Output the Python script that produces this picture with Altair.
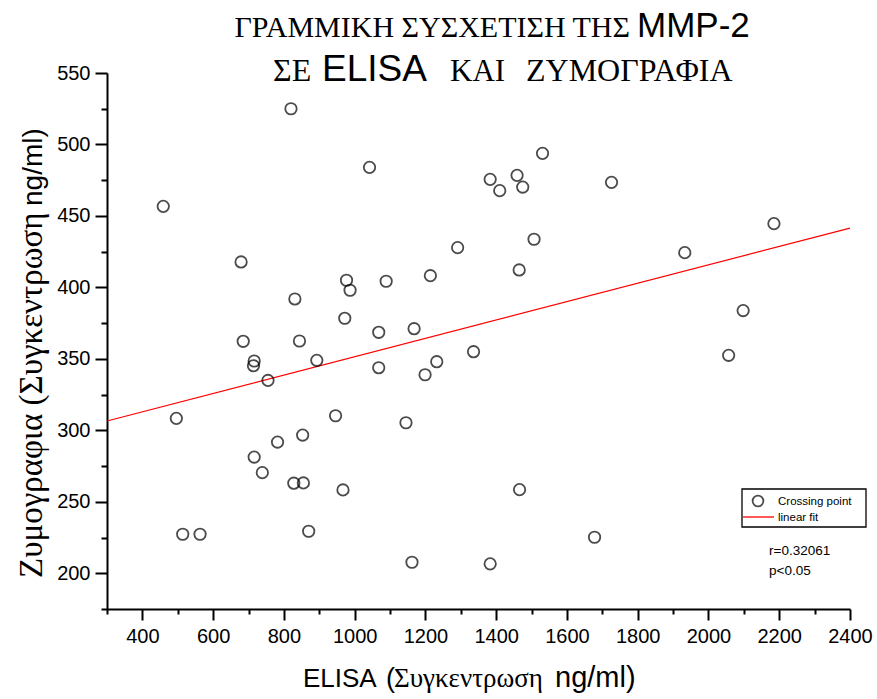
import altair as alt
import pandas as pd

# ---- data ----
elisa = [820, 1042, 1383, 1410, 459, 679, 1291, 977, 987, 1089, 1214, 831, 972, 1068,
         1168, 685, 844, 1336, 716, 714, 893, 1068, 1232, 1199, 755, 496, 946, 1145,
         853, 782, 716, 739, 828, 855, 967, 514, 563, 870, 1162, 1383, 1531, 1459,
         1475, 1726, 1507, 1465, 1933, 2185, 2098, 2057, 1466, 1678]
zymo = [525, 484, 475.6, 467.7, 456.7, 417.8, 427.8, 405, 398, 404.3, 408.2, 391.9, 378.4, 368.6,
        371.1, 362.3, 362.5, 355, 348.5, 345.2, 349, 343.8, 348, 338.9, 334.9, 308.4, 310.2, 305.3,
        296.7, 291.8, 281.3, 270.4, 263, 263.2, 258.3, 227.3, 227.3, 229.4, 207.7, 206.6, 493.8, 478.4,
        470.2, 473.5, 433.7, 412.2, 424.3, 444.6, 383.8, 352.5, 258.5, 225.2]
fit_x = [300, 2400]
fit_y = [306.5, 441.5]
x_ticks = list(range(300, 2401, 100))
y_ticks = list(range(175, 551, 25))

W, H = 743, 536
SERIF = "Liberation Serif"
SANS = "Liberation Sans"

pts = pd.DataFrame({"x": elisa, "y": zymo})
fit = pd.DataFrame({"x": fit_x, "y": fit_y})

xaxis = alt.Axis(values=x_ticks, title=None, grid=False, domainColor="black", domainWidth=2,
                 tickColor="black", tickWidth=2,
                 tickSize={"condition": {"test": "datum.value % 200 === 0", "value": 11}, "value": 5},
                 labelExpr="datum.value % 200 === 0 ? datum.label : ''",
                 labelFont=SANS, labelFontSize=20, labelColor="black", labelPadding=6,
                 labelOverlap=False, labelFlush=False, format="d")
yaxis = alt.Axis(values=y_ticks, title=None, grid=False, domainColor="black", domainWidth=2,
                 tickColor="black", tickWidth=2,
                 tickSize={"condition": {"test": "datum.value % 50 === 0", "value": 12}, "value": 6},
                 labelExpr="datum.value % 50 === 0 ? datum.label : ''",
                 labelFont=SANS, labelFontSize=20, labelColor="black", labelPadding=5,
                 labelOverlap=False, labelFlush=False, format="d")

xs = alt.Scale(domain=[300, 2400], nice=False, zero=False)
ys = alt.Scale(domain=[175, 550], nice=False, zero=False)

points = alt.Chart(pts).mark_point(shape="circle", filled=False, color="black", size=130,
                                   strokeWidth=1.8).encode(
    x=alt.X("x:Q", scale=xs, axis=xaxis),
    y=alt.Y("y:Q", scale=ys, axis=yaxis),
)
line = alt.Chart(fit).mark_line(color="red", strokeWidth=1.2).encode(
    x=alt.X("x:Q", scale=xs, axis=xaxis),
    y=alt.Y("y:Q", scale=ys, axis=yaxis),
)

one = pd.DataFrame({"a": [0]})


def txt(s, x, y, font, size, align="left", angle=0):
    kw = dict(font=font, fontSize=size, align=align, baseline="alphabetic", color="black")
    if angle:
        kw["angle"] = angle
    return alt.Chart(one).mark_text(**kw).encode(
        x=alt.value(x), y=alt.value(y), text=alt.value(s))


OX, OY = 107, 73  # plot origin in page pixels

texts = [
    # title line 1
    txt("ΓΡΑΜΜΙΚΗ ΣΥΣΧΕΤΙΣΗ ΤΗΣ", 630 - OX, 37 - OY, SERIF, 30, align="right"),
    txt("MMP-2", 637 - OX, 37 - OY, SANS, 35),
    # title line 2
    txt("ΣΕ", 273 - OX, 81 - OY, SERIF, 32),
    txt("ELISA", 322 - OX, 81 - OY, SANS, 37),
    txt("ΚΑΙ", 450 - OX, 81 - OY, SERIF, 31),
    txt("ΖΥΜΟΓΡΑΦΙΑ", 526 - OX, 81 - OY, SERIF, 32),
    # x title
    txt("ELISA", 303 - OX, 687 - OY, SANS, 26),
    txt("(", 386 - OX, 687 - OY, SANS, 27),
    txt("Συγκεντρωση", 394 - OX, 687 - OY, SERIF, 27),
    txt("ng/ml)", 555 - OX, 687 - OY, SANS, 29),
    # y title
    txt("Ζυμογραφια (Συγκεντρωση", 42 - OX, 578 - OY, SERIF, 33, angle=270),
    txt("ng/ml)", 42 - OX, 206 - OY, SANS, 28, angle=270),
    # legend
    txt("Crossing point", 778 - OX, 505 - OY, SANS, 11.5),
    txt("linear fit", 778 - OX, 521 - OY, SANS, 11.5),
    txt("r=0.32061", 769 - OX, 555 - OY, SANS, 13.5),
    txt("p<0.05", 769 - OX, 575 - OY, SANS, 13.5),
]

legend_box = alt.Chart(one).mark_rect(fill="white", stroke="black", strokeWidth=1.3).encode(
    x=alt.value(742 - OX), x2=alt.value(866 - OX), y=alt.value(489 - OY), y2=alt.value(527 - OY))
legend_sym = alt.Chart(one).mark_point(shape="circle", filled=False, color="black", size=115,
                                       strokeWidth=1.8).encode(
    x=alt.value(758 - OX), y=alt.value(501 - OY))
legend_line = alt.Chart(one).mark_rule(color="#ff5a5a", strokeWidth=2).encode(
    x=alt.value(743 - OX), x2=alt.value(774 - OX), y=alt.value(517 - OY))

chart = alt.layer(line, points, legend_box, legend_sym, legend_line, *texts).properties(
    width=W, height=H,
    autosize=alt.AutoSizeParams(type="none"),
    padding={"left": OX, "top": OY, "right": 877 - OX - W, "bottom": 699 - OY - H},
    background="white",
).configure_view(stroke=None)

chart.save("out.html", embed_options={"renderer": "svg", "actions": False})
